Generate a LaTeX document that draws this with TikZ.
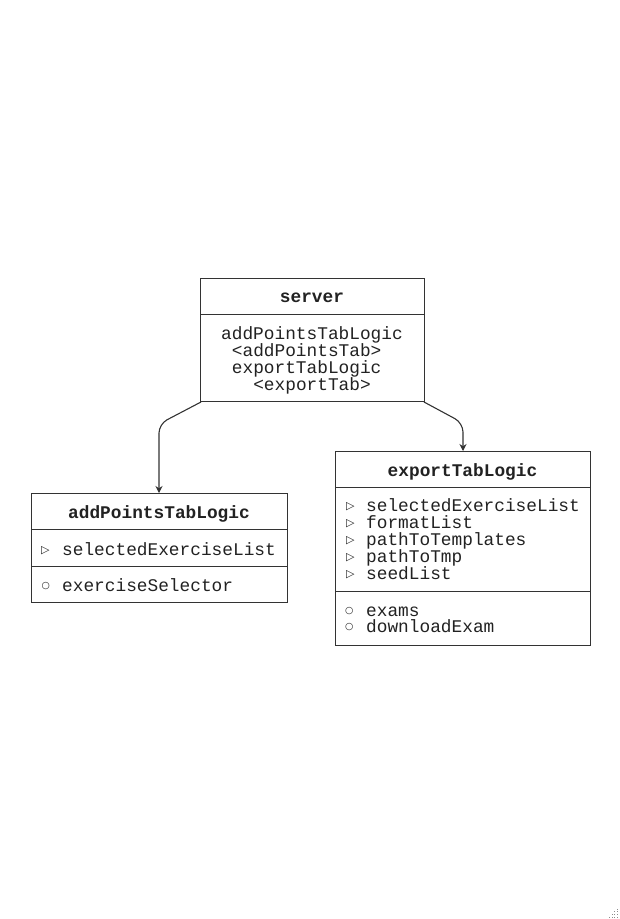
\documentclass[tikz,border=0pt]{standalone}
\usepackage{fontspec}
\setmonofont{Liberation Mono}
\newfontfamily\symfont{DejaVu Sans}
\usetikzlibrary{arrows.meta}
\definecolor{linec}{HTML}{333333}
\definecolor{textc}{HTML}{222222}
\begin{document}
\begin{tikzpicture}[x=1pt,y=-1pt,
  box/.style={draw=linec, line width=1pt, fill=white, inner sep=0pt, anchor=north west},
  divider/.style={draw=linec, line width=1pt},
  txt/.style={anchor=base west, inner sep=0pt, font=\ttfamily\fontsize{17.8}{17}\selectfont, text=textc},
  ttl/.style={anchor=base, inner sep=0pt, font=\ttfamily\bfseries\fontsize{17.8}{17}\selectfont, text=textc},
  tri/.style={anchor=base west, inner sep=0pt, yshift=1.5pt, font=\symfont\fontsize{11}{11}\selectfont, text=textc},
  circ/.style={anchor=base west, inner sep=0pt, yshift=2.5pt, font=\symfont\fontsize{9.5}{10}\selectfont, text=textc},
  conn/.style={draw=linec, line width=1.1pt, rounded corners=9pt, -{Stealth[length=7pt,width=7pt]}},
  grip/.style={fill=black!45, draw=none}
]
\useasboundingbox (0,0) rectangle (619,919);

% server
\node[box, minimum width=224pt, minimum height=123pt] (server) at (200,278) {};
\draw[divider] (200,314) -- (424,314);
\node[ttl] (st) at (312,302.7) {server};
\node[txt] (s1) at (221,339) {addPointsTabLogic};
\node[txt] (s2) at (231.7,356) {<addPointsTab>};
\node[txt] (s3) at (231.7,373) {exportTabLogic};
\node[txt] (s4) at (253.1,390) {<exportTab>};

% addPointsTabLogic
\node[box, minimum width=256pt, minimum height=109pt] (addp) at (31,493) {};
\draw[divider] (31,529.5) -- (287,529.5);
\draw[divider] (31,566.5) -- (287,566.5);
\node[ttl] (at) at (159,518) {addPointsTabLogic};
\node[tri] (a1s) at (41,555) {▷};
\node[txt] (a1) at (62,555) {selectedExerciseList};
\node[circ] (a2s) at (41.5,591) {○};
\node[txt] (a2) at (62,591) {exerciseSelector};

% exportTabLogic
\node[box, minimum width=255pt, minimum height=194pt] (expt) at (335,451) {};
\draw[divider] (335,487.5) -- (590,487.5);
\draw[divider] (335,591.5) -- (590,591.5);
\node[ttl] (et) at (462.5,476) {exportTabLogic};
\node[tri] (e1s) at (346,511) {▷};
\node[txt] (e1) at (366,511) {selectedExerciseList};
\node[tri] (e2s) at (346,528) {▷};
\node[txt] (e2) at (366,528) {formatList};
\node[tri] (e3s) at (346,545) {▷};
\node[txt] (e3) at (366,545) {pathToTemplates};
\node[tri] (e4s) at (346,562) {▷};
\node[txt] (e4) at (366,562) {pathToTmp};
\node[tri] (e5s) at (346,579) {▷};
\node[txt] (e5) at (366,579) {seedList};
\node[circ] (e6s) at (345,616) {○};
\node[txt] (e6) at (366,616) {exams};
\node[circ] (e7s) at (345,632) {○};
\node[txt] (e7) at (366,632) {downloadExam};

% connectors
\coordinate (cl) at (159,424);
\coordinate (cr) at (463,423);
\draw[conn] ([xshift=1pt]server.south west) -- (cl) -- (addp.north -| cl);
\draw[conn] ([xshift=-1pt]server.south east) -- (cr) -- (expt.north -| cr);

% resize grip
\foreach \i in {0,...,3}{
  \foreach \j in {0,...,\i}{
    \fill[grip] ({617.6-2.7*\j-0.5},{909+2.7*\i-0.5}) rectangle ++(1,1);
  }
}
\end{tikzpicture}
\end{document}
